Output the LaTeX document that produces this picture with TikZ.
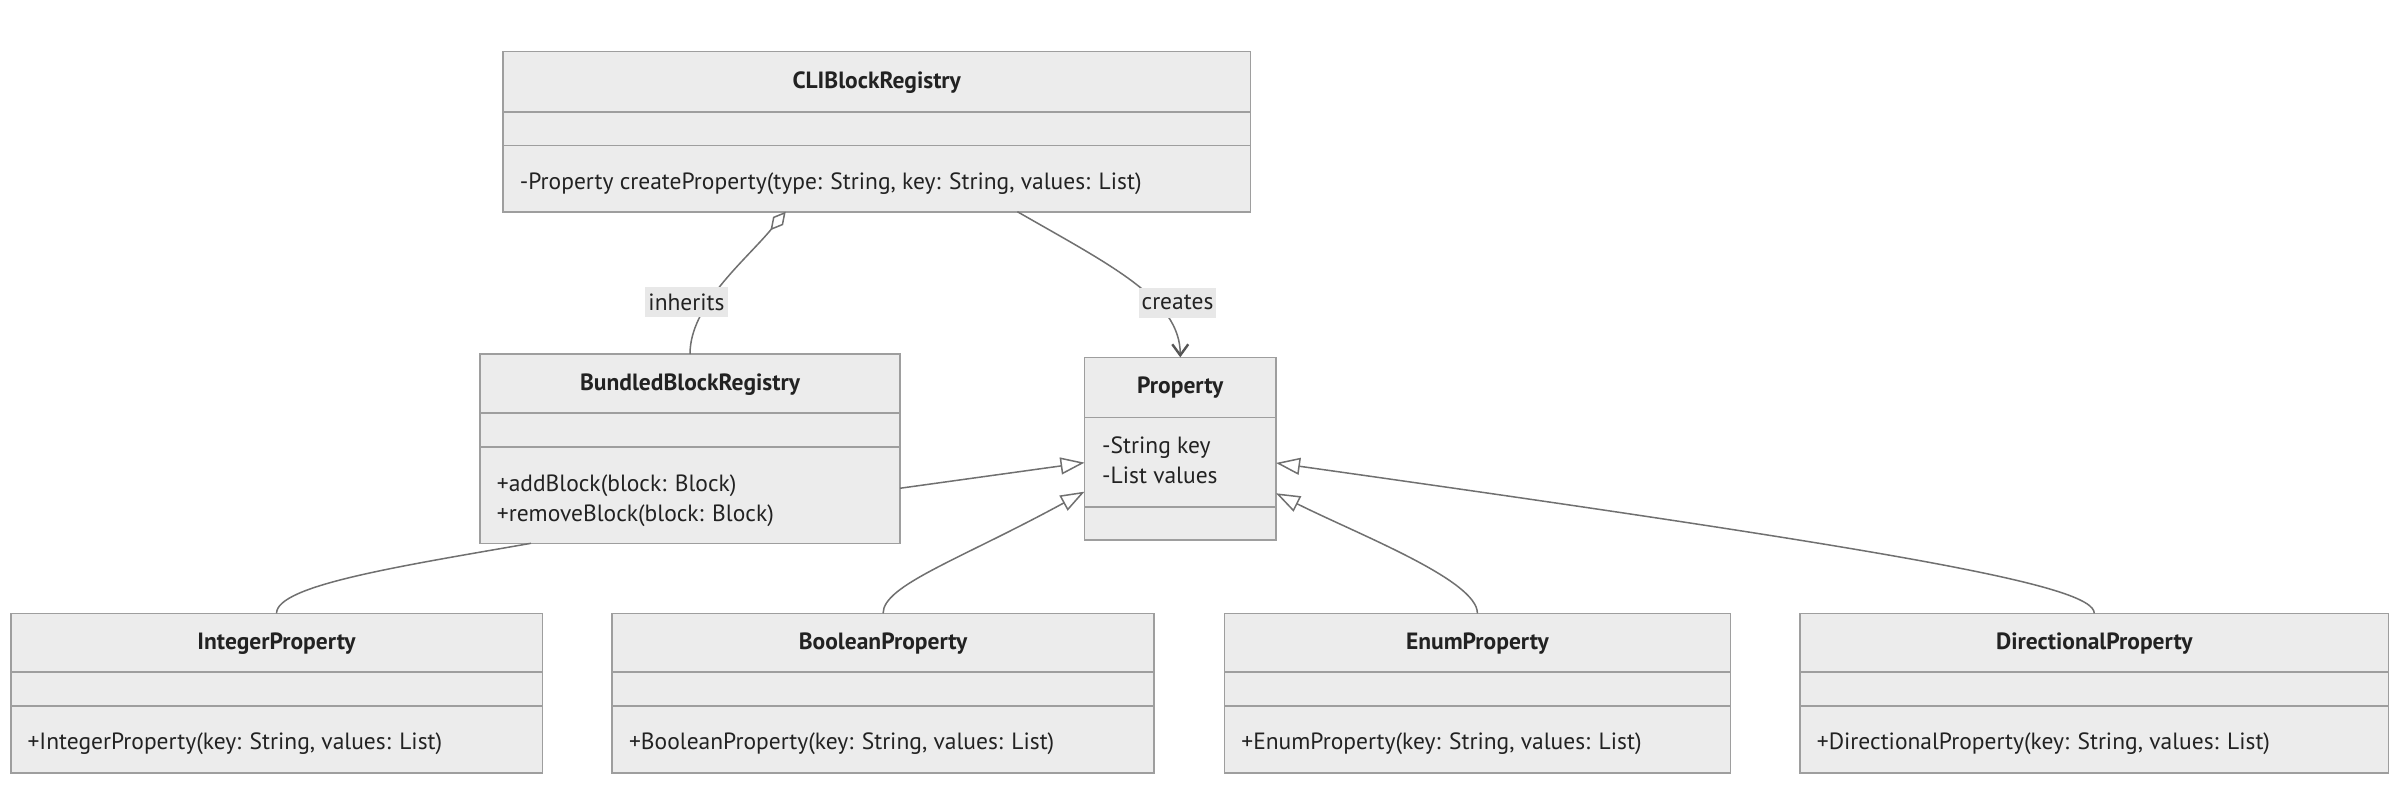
\documentclass[tikz,border=0pt]{standalone}
\usepackage{fontspec}
\setmainfont{PT Sans}
\usetikzlibrary{arrows.meta,calc}
\definecolor{boxfill}{HTML}{ECECEC}
\definecolor{boxline}{HTML}{9E9E9E}
\definecolor{edgecol}{HTML}{707070}
\definecolor{arrowcol}{HTML}{555555}
\definecolor{txt}{HTML}{222222}
\definecolor{lblbg}{HTML}{E8E8E8}
\begin{document}
\begin{tikzpicture}[x=1pt,y=-1pt,
  classbox/.style={draw=boxline, fill=boxfill, line width=1.6pt, inner sep=0pt, outer sep=0pt},
  divider/.style={draw=boxline, line width=1.6pt},
  hdr/.style={font=\fontsize{23.5}{28}\selectfont\bfseries, text=txt, inner sep=0pt},
  mem/.style={font=\fontsize{23.5}{28}\selectfont, text=txt, inner sep=0pt, anchor=west, text height=16.5pt, text depth=4.7pt},
  edge/.style={draw=edgecol, line width=1.5pt},
  elabel/.style={fill=lblbg, text=txt, font=\fontsize{23.5}{28}\selectfont, inner xsep=3pt, inner ysep=0pt, minimum height=30pt},
  gen/.style={-{Triangle[length=24pt,width=17pt,fill=white]}},
  agg/.style={-{Diamond[length=24pt,width=13pt,fill=white]}},
  dep/.style={-{Straight Barb[length=11pt,width=16pt,line width=2.4pt,color=arrowcol]}}
]
\useasboundingbox (0,0) rectangle (2400,784);
\fill[white] (0,0) rectangle (2400,784);

% ---------- class boxes ----------
\node[classbox, minimum width=747.4pt, minimum height=160pt] (cli) at (876.7,131.7) {};
\draw[divider] ($(cli.west)+(0,-20)$) -- ($(cli.east)+(0,-20)$);
\draw[divider] ($(cli.west)+(0,13.7)$) -- ($(cli.east)+(0,13.7)$);
\node[hdr] (clih) at (876.7,83) {CLIBlockRegistry};
\node[mem] (clim1) at (519.7,184) {-Property createProperty(type: String, key: String, values: List)};

\node[classbox, minimum width=420pt, minimum height=189.3pt] (bbr) at (690,448.65) {};
\draw[divider] ($(bbr.west)+(0,-35.95)$) -- ($(bbr.east)+(0,-35.95)$);
\draw[divider] ($(bbr.west)+(0,-1.95)$) -- ($(bbr.east)+(0,-1.95)$);
\node[hdr] (bbrh) at (690,385) {BundledBlockRegistry};
\node[mem] (bbrm1) at (496.7,485.5) {+addBlock(block: Block)};
\node[mem] (bbrm2) at (496.7,515.5) {+removeBlock(block: Block)};

\node[classbox, minimum width=191.5pt, minimum height=182.7pt] (prop) at (1180.25,448.65) {};
\draw[divider] ($(prop.west)+(0,-31.35)$) -- ($(prop.east)+(0,-31.35)$);
\draw[divider] ($(prop.west)+(0,58.05)$) -- ($(prop.east)+(0,58.05)$);
\node[hdr] (proph) at (1180.25,387.3) {Property};
\node[mem] (propa1) at (1102,448) {-String key};
\node[mem] (propa2) at (1102,477.5) {-List values};

\node[classbox, minimum width=531.7pt, minimum height=159.4pt] (intp) at (276.55,693) {};
\draw[divider] ($(intp.west)+(0,-21.3)$) -- ($(intp.east)+(0,-21.3)$);
\draw[divider] ($(intp.west)+(0,13)$) -- ($(intp.east)+(0,13)$);
\node[hdr] (intph) at (276.55,643.3) {IntegerProperty};
\node[mem] (intpm) at (27.4,744) {+IntegerProperty(key: String, values: List)};

\node[classbox, minimum width=541.8pt, minimum height=159.4pt] (boolp) at (883.1,693) {};
\draw[divider] ($(boolp.west)+(0,-21.3)$) -- ($(boolp.east)+(0,-21.3)$);
\draw[divider] ($(boolp.west)+(0,13)$) -- ($(boolp.east)+(0,13)$);
\node[hdr] (boolph) at (883.1,643.3) {BooleanProperty};
\node[mem] (boolpm) at (628.9,744) {+BooleanProperty(key: String, values: List)};

\node[classbox, minimum width=505.8pt, minimum height=159.4pt] (enump) at (1477.4,693) {};
\draw[divider] ($(enump.west)+(0,-21.3)$) -- ($(enump.east)+(0,-21.3)$);
\draw[divider] ($(enump.west)+(0,13)$) -- ($(enump.east)+(0,13)$);
\node[hdr] (enumph) at (1477.4,643.3) {EnumProperty};
\node[mem] (enumpm) at (1241.2,744) {+EnumProperty(key: String, values: List)};

\node[classbox, minimum width=588.5pt, minimum height=159.4pt] (dirp) at (2094.25,693) {};
\draw[divider] ($(dirp.west)+(0,-21.3)$) -- ($(dirp.east)+(0,-21.3)$);
\draw[divider] ($(dirp.west)+(0,13)$) -- ($(dirp.east)+(0,13)$);
\node[hdr] (dirph) at (2094.25,643.3) {DirectionalProperty};
\node[mem] (dirpm) at (1816.7,744) {+DirectionalProperty(key: String, values: List)};

% ---------- connectors ----------
\draw[edge, agg] (bbr.north) .. controls +(0,-49) and +(-40,48.6) .. ($(cli.south)+(-91,0)$);
\draw[edge, dep] ($(cli.south)+(140.7,0)$) .. controls +(92.6,53.3) and +(0,-58.3) .. (prop.north);
\draw[edge, gen] ($(bbr.east)+(0,39.6)$) -- ($(prop.west)+(0,14)$);
\draw[edge, gen] (boolp.north) .. controls +(0,-28) and +(-125.3,68.3) .. ($(prop.west)+(0,43)$);
\draw[edge, gen] (enump.north) .. controls +(0,-33) and +(83.5,41.7) .. ($(prop.east)+(0,44.6)$);
\draw[edge, gen] (dirp.north) .. controls +(0,-28) and +(624,88) .. ($(prop.east)+(0,14.3)$);
\draw[edge] (intp.north) .. controls +(0,-28) and +(-131,22.9) .. ($(bbr.south)+(-159,0)$);

% ---------- edge labels ----------
\node[elabel] (lblinh) at (686.5,302) {inherits};
\node[elabel] (lblcre) at (1177.5,302.5) {creates};
\end{tikzpicture}
\end{document}
